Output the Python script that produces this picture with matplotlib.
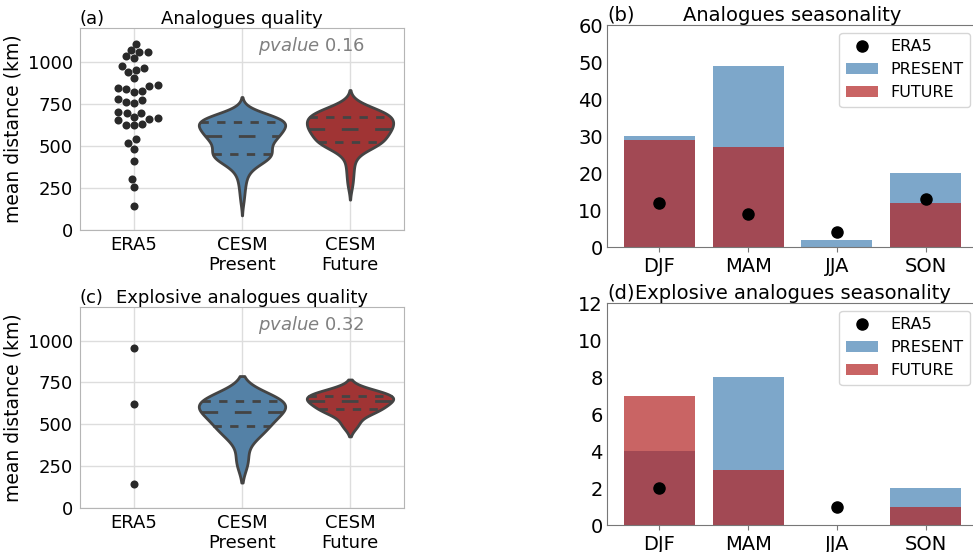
#!/usr/bin/env python3
"""Analogues quality / seasonality figure (ERA5 vs CESM present/future)."""

import matplotlib
matplotlib.use('Agg')
import matplotlib.pyplot as plt
import numpy as np
import pandas as pd
import seaborn as sns

categories = ['ERA5', 'CESM\nPresent', 'CESM\nFuture']
seasons = ['DJF', 'MAM', 'JJA', 'SON']

# mean distance (km) of the analogues, all events
era5_dist = [1105, 1067, 1060, 1060, 1031, 1022, 974, 938, 952, 960, 905,
             853, 839, 821, 827, 841, 859, 780, 762, 754, 772, 702, 698, 673,
             697, 651, 625, 621, 631, 659, 663, 542, 516, 480, 411, 302, 256, 143]
present_dist = [175, 230, 270, 300, 330, 350, 365, 380, 390, 400,
                405, 410, 415, 420, 425, 428, 431, 434, 437, 440, 442, 444, 445, 446, 448,
                450, 455, 460, 465, 470, 475, 480, 485, 490, 495, 500, 505, 510, 515,
                520, 525, 530, 535, 540, 543, 546, 549, 551, 553, 555,
                557, 560, 563, 566, 569, 572, 575, 578, 581, 584, 587, 590, 593, 596,
                599, 602, 605, 608, 611, 614, 617, 620, 625, 630, 635,
                641, 643, 645, 646, 647, 648, 649, 650, 651, 652, 653, 654, 655, 656,
                657, 658, 659, 660, 662, 664, 666, 669, 674, 680, 688, 702]
future_dist = [265, 320, 365, 405, 440, 465, 480, 490, 498, 504, 509, 513, 516,
               518, 520, 521, 522,
               526, 533, 540, 547, 553, 559, 564, 569, 574, 578, 582, 586, 590,
               593, 596, 599, 601,
               604, 608, 612, 616, 620, 624, 628, 632, 636, 640, 644, 648, 652,
               656, 660, 664, 668,
               671, 674, 677, 680, 683, 686, 689, 692, 695, 699, 703, 708, 713,
               719, 726, 735, 747]

# explosive cyclones only
era5_expl = [954, 621, 141]
present_expl = [280, 420, 460, 490, 500, 560, 570, 580, 600, 630, 640, 645, 650, 660]
future_expl = [500, 570, 585, 593, 625, 637, 650, 662, 674, 685, 695]

pvalue_all = '0.16'
pvalue_expl = '0.32'

# seasonal counts
era5_counts = [12, 9, 4, 13]
present_counts = [30, 49, 2, 20]
future_counts = [29, 27, 0, 12]

era5_expl_counts = [2, np.nan, 1, np.nan]
present_expl_counts = [4, 8, 0, 2]
future_expl_counts = [7, 3, 0, 1]

FS = 13
FS_BAR = 14
plt.rcParams['font.family'] = 'DejaVu Sans'
plt.rcParams['font.size'] = FS


def quality_panel(ax, era5, present, future, pval, letter, title):
    df = pd.DataFrame({
        'cat': [categories[1]] * len(present) + [categories[2]] * len(future),
        'dist': list(present) + list(future),
    })
    n_before = len(ax.lines)
    sns.violinplot(data=df, x='cat', y='dist', order=categories, hue='cat',
                   palette={categories[1]: 'steelblue', categories[2]: 'firebrick'},
                   inner='quart', density_norm='width', linewidth=2,
                   linecolor='#444444', legend=False, ax=ax)
    # old-style quartile dashes: short for Q1/Q3, long for the median
    for i, line in enumerate(ax.lines[n_before:]):
        line.set_linewidth(2)
        line.set_color('#444444')
        line.set_dashes([6, 6] if i % 3 == 1 else [3, 3])
    sns.swarmplot(x=[categories[0]] * len(era5), y=era5, order=categories,
                  color='.16', size=5.8, ax=ax)
    ax.set_ylim(0, 1200)
    ax.set_xlim(-0.5, 2.5)
    ax.set_yticks([0, 250, 500, 750, 1000])
    ax.set_xlabel('')
    ax.set_ylabel('mean distance (km)', fontsize=13.5)
    ax.grid(True, color='#dddddd', linewidth=1)
    ax.set_axisbelow(True)
    for s in ax.spines.values():
        s.set_color('#b5b5b5')
    ax.tick_params(length=0, labelsize=FS, pad=5)
    ax.tick_params(axis='x', pad=4)
    ax.text(0.88, 0.91, r'$\it{pvalue}$ ' + pval, transform=ax.transAxes,
            ha='right', va='center', color='grey', fontsize=FS)
    ax.set_title(letter, loc='left', fontsize=FS, pad=3)
    ax.set_title(title, fontsize=FS, pad=3)


def season_panel(ax, era5, present, future, ymax, step, letter, title):
    x = np.arange(len(seasons))
    ax.bar(x, present, width=0.8, color='steelblue', alpha=0.7, label='PRESENT')
    ax.bar(x, future, width=0.8, color='firebrick', alpha=0.7, label='FUTURE')
    ax.plot(x, era5, 'o', color='k', markersize=8, zorder=3, label='ERA5')
    ax.set_xticks(x)
    ax.set_xticklabels(seasons)
    ax.set_ylim(0, ymax)
    ax.set_yticks(np.arange(0, ymax + 1, step))
    ax.set_xlim(-0.59, 3.59)
    for s in ax.spines.values():
        s.set_color('#777777')
    ax.tick_params(axis='y', length=0, pad=3, labelsize=FS_BAR)
    ax.tick_params(axis='x', length=3.5, color='#777777', labelsize=FS_BAR)
    handles, labels = ax.get_legend_handles_labels()
    order = [labels.index('ERA5'), labels.index('PRESENT'), labels.index('FUTURE')]
    ax.legend([handles[i] for i in order], [labels[i] for i in order],
              loc='upper right', fontsize=11.5)
    ax.set_title(letter, loc='left', fontsize=FS_BAR, pad=3)
    ax.set_title(title, fontsize=FS_BAR, pad=3)


fig = plt.figure(figsize=(9.73, 5.52), dpi=100)
ax_a = fig.add_axes([0.0822, 0.5833, 0.333, 0.366])
ax_c = fig.add_axes([0.0822, 0.0797, 0.333, 0.364])
ax_b = fig.add_axes([0.6238, 0.5525, 0.3813, 0.402])
ax_d = fig.add_axes([0.6238, 0.0489, 0.3813, 0.402])

quality_panel(ax_a, era5_dist, present_dist, future_dist, pvalue_all,
              '(a)', 'Analogues quality')
quality_panel(ax_c, era5_expl, present_expl, future_expl, pvalue_expl,
              '(c)', 'Explosive analogues quality')
season_panel(ax_b, era5_counts, present_counts, future_counts, 60, 10,
             '(b)', 'Analogues seasonality')
season_panel(ax_d, era5_expl_counts, present_expl_counts, future_expl_counts, 12, 2,
             '(d)', 'Explosive analogues seasonality')

fig.savefig('out.png', dpi=100)
